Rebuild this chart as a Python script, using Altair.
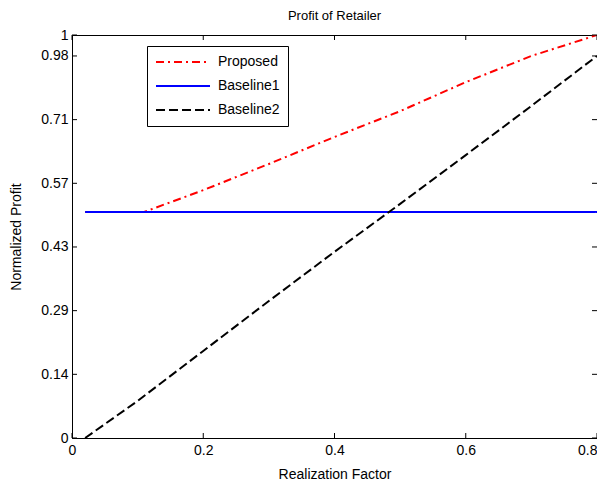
import json
import altair as alt
import pandas as pd

# ---- data ----
series_names = ["Proposed", "Baseline1", "Baseline2"]

proposed_x = [0.02, 0.11, 0.2, 0.3, 0.4, 0.5, 0.6, 0.7, 0.8]
proposed_y = [0.561, 0.561, 0.615, 0.680, 0.747, 0.811, 0.883, 0.948, 1.0]

baseline1_x = [0.02, 0.8]
baseline1_y = [0.561, 0.561]

baseline2_x = [0.02, 0.1, 0.2, 0.3, 0.4, 0.5, 0.6, 0.7, 0.8]
baseline2_y = [0.0, 0.092, 0.216, 0.340, 0.462, 0.581, 0.702, 0.824, 0.948]

x_ticks = [0, 0.2, 0.4, 0.6, 0.8]
y_tick_pos = [0, 0.158, 0.316, 0.474, 0.632, 0.790, 0.948, 1.0]
y_tick_lbl = ["0", "0.14", "0.29", "0.43", "0.57", "0.71", "0.98", "1"]

colors = ["#ff0000", "#0000ff", "#000000"]
dashes = [[8, 4, 2, 4], [1, 0], [9, 4]]

rows = []
for name, xs, ys in zip(series_names,
                        [proposed_x, baseline1_x, baseline2_x],
                        [proposed_y, baseline1_y, baseline2_y]):
    for i, (xv, yv) in enumerate(zip(xs, ys)):
        rows.append({"series": name, "x": xv, "y": yv, "o": i})
df = pd.DataFrame(rows)

W, H = 525, 403
FONT = "Liberation Sans"

xscale = alt.Scale(domain=[0, 0.8], nice=False, zero=False)
yscale = alt.Scale(domain=[0, 1], nice=False, zero=False)

label_expr = f"{json.dumps(y_tick_lbl)}[indexof({json.dumps(y_tick_pos)}, datum.value)]"

legend_opts = dict(title=None, orient="none", legendX=75, legendY=11,
                   symbolType="stroke", symbolSize=2916,
                   symbolStrokeWidth=2, clipHeight=16, rowPadding=8,
                   padding=8, labelOffset=7,
                   labelExpr="datum.label + '\u00a0\u00a0\u00a0\u00a0'",
                   strokeColor="black", fillColor="white",
                   labelFontSize=14, labelFont=FONT, labelColor="black")

lines = alt.Chart(df).mark_line(strokeWidth=2, clip=True).encode(
    x=alt.X("x:Q", scale=xscale,
            axis=alt.Axis(values=x_ticks, format="~g", title="Realization Factor",
                          ticks=False, grid=False, labelFlush=False, labelOverlap=False,
                          labelAlign=alt.ExprRef(expr="datum.value >= 0.8 ? 'right' : 'center'"),
                          labelPadding=5, titlePadding=10, domainColor="black",
                          labelColor="black", titleColor="black",
                          labelFont=FONT, titleFont=FONT, labelFontSize=14,
                          titleFontSize=14, titleFontWeight="normal")),
    y=alt.Y("y:Q", scale=yscale,
            axis=alt.Axis(values=y_tick_pos, labelExpr=label_expr, title="Normalized Profit",
                          ticks=False, grid=False, labelFlush=False, labelOverlap=False,
                          labelPadding=4, titlePadding=17, domainColor="black",
                          labelColor="black", titleColor="black",
                          labelFont=FONT, titleFont=FONT, labelFontSize=14,
                          titleFontSize=14, titleFontWeight="normal")),
    color=alt.Color("series:N", scale=alt.Scale(domain=series_names, range=colors),
                    legend=alt.Legend(**legend_opts)),
    strokeDash=alt.StrokeDash("series:N",
                              scale=alt.Scale(domain=series_names, range=dashes),
                              legend=alt.Legend(**legend_opts)),
    order="o:Q",
)

xt = pd.DataFrame({"v": x_ticks})
yt = pd.DataFrame({"v": y_tick_pos})
TL = 5
tick_b = alt.Chart(xt).mark_rule(color="black", strokeWidth=1).encode(
    x=alt.X("v:Q", scale=xscale), y=alt.value(H), y2=alt.value(H - TL))
tick_t = alt.Chart(xt).mark_rule(color="black", strokeWidth=1).encode(
    x=alt.X("v:Q", scale=xscale), y=alt.value(0), y2=alt.value(TL))
tick_l = alt.Chart(yt).mark_rule(color="black", strokeWidth=1).encode(
    y=alt.Y("v:Q", scale=yscale), x=alt.value(0), x2=alt.value(TL))
tick_r = alt.Chart(yt).mark_rule(color="black", strokeWidth=1).encode(
    y=alt.Y("v:Q", scale=yscale), x=alt.value(W), x2=alt.value(W - TL))

chart = alt.layer(lines, tick_b, tick_t, tick_l, tick_r).properties(
    width=W, height=H,
    background="white",
    title=alt.TitleParams("Profit of Retailer", fontSize=13, fontWeight="normal",
                          font=FONT, color="black", anchor="middle", frame="group", offset=5),
    autosize=alt.AutoSizeParams(type="none"),
    padding={"left": 64, "top": 27, "right": 0, "bottom": 45},
).configure_view(stroke="black", strokeWidth=1)

chart.save("out.html", embed_options={"renderer": "svg", "actions": False})
